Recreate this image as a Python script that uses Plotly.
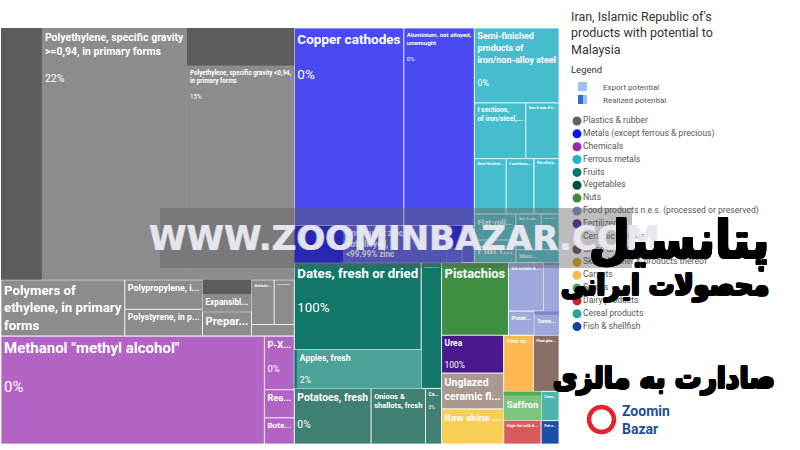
import plotly.graph_objects as go

# ---------------- data ----------------
categories = ["Plastics & rubber", "Metals (except ferrous & precious)", "Chemicals",
              "Ferrous metals", "Fruits", "Vegetables", "Nuts",
              "Food products n.e.s. (processed or preserved)", "Fertilizers",
              "Ceramic articles", "Glass articles", "Skins, leather & products thereof",
              "Carpets", "Spices", "Dairy products", "Cereal products", "Fish & shellfish"]
legend_colors = ["#616161", "#1010f0", "#9c27b0", "#1fb3c6", "#00796b", "#004d40", "#388e3c",
                 "#7986cb", "#4a148c", "#d7ccc8", "#5d4037", "#d9a400", "#ffb74d",
                 "#4caf50", "#c62828", "#26a69a", "#0d47a1"]
cell_colors = ["#8c8c8c", "#4a4af2", "#b264c4", "#46bdcc", "#4aa396", "#3f8073", "#3d8f41",
               "#9fa8da", "#8a6bb8", "#a99890", "#8a6f66", "#f8cf55", "#ffb752",
               "#7dc47f", "#d95a5a", "#4db6ac", "#1e4fa6"]
realized_colors = ["#5c5c5c", "#0000ee", "#9c27b0", "#1ea5b8", "#12786a", "#1d5e50", "#2e7d32",
                   "#7986cb", "#4a1a8c", "#8d7b74", "#6d5248", "#e0b030", "#f59a2a",
                   "#4caf50", "#c62828", "#26a69a", "#0d47a1"]
# order in which the category blocks are packed
draw_order = [0, 2, 1, 3, 4, 5, 6, 7, 8, 9, 11, 12, 10, 13, 14, 15, 16]

products = ["Polyethylene, specific gravity<br>>=0,94, in primary forms",
            "Polyethylene, specific gravity &lt;0,94,<br>in primary forms",
            "Polymers of<br>ethylene, in primary<br>forms", "Polypropylene, i...",
            "Polystyrene, in p...", "Expansibl...", "Prepar...", "Article...", "Non-cellula...", "",
            "Copper cathodes", "Aluminium, not alloyed,<br>unwrought",
            "Unwrought zinc,<br>not alloyed,<br>&lt;99.99% zinc", "", "",
            "Methanol \"methyl alcohol\"", "P-X...", "Rea...", "Buta...",
            "Semi-finished<br>products of<br>iron/non-alloy steel", "I sections,<br>of iron/steel,...",
            "Semi-finished...", "Bars & rods of ir...", "Flat-rolled p...", "I sections...",
            "Flat-roll...", "Flat r...", "Bars & rods...", "Semi-fini...", "Wast...",
            "Dates, fresh or dried", "Apples, fresh", "Grapes, dried",
            "Potatoes, fresh", "Onions &<br>shallots, fresh", "Ca...",
            "Pistachios",
            "Ice cream & ...", "", "Potat...", "Swee...",
            "Urea", "Unglazed<br>ceramic fl...", "Float glas...", "Raw skins ...", "Floor co...",
            "Saffron", "High-fat milk &...", "Ceme...", "Fish n..."]
product_category = [0] * 10 + [1] * 5 + [2] * 4 + [3] * 11 + [4] * 3 + [5] * 3 + [6] + [7] * 4 + \
                   [8, 9, 10, 11, 12, 13, 14, 15, 16]
export_potential = [450, 260, 67, 22, 20, 15, 11.5, 9.8, 8.6, 4.8,
                    208, 134, 54, 5.5, 4.5,
                    273, 15.4, 8.1, 7.5,
                    61, 27.5, 17, 17.7, 13.3, 14.8, 10.4, 9, 8.7, 6.1, 5.3,
                    106.5, 47, 24.6,
                    41, 29, 8.6,
                    46.7,
                    16.5, 7.1, 6, 5.7,
                    22.6, 21.4, 13.8, 20.9, 16, 10.4, 8.5, 5, 4]
realized_label = ["22%", "15%", "", "", "", "", "", "", "", "",
                  "0%", "0%", "", "", "",
                  "0%", "0%", "", "",
                  "0%", "", "", "", "", "", "", "", "", "", "",
                  "100%", "2%", "",
                  "0%", "", "0%",
                  "",
                  "", "", "", "",
                  "100%", "", "", "", "", "", "", "", ""]
realized_share = [22, 15, 0, 0, 0, 45, 0, 0, 0, 0,
                  0, 0, 32, 60, 0,
                  0, 0, 0, 0,
                  0, 0, 0, 0, 0, 0, 0, 0, 0, 0, 0,
                  100, 2, 100,
                  0, 0, 0,
                  0,
                  0, 5, 0, 15,
                  100, 0, 0, 0, 0, 15, 0, 0, 0]

title_lines = ["Iran, Islamic Republic of's", "products with potential to", "Malaysia"]
legend_keys = ["Export potential", "Realized potential"]
persian_lines = ["پتانسیل", "محصولات ایرانی", "صادارت به مالزی"]
watermark = "WWW.ZOOMINBAZAR.COM"
logo_lines = ["Zoomin", "Bazar"]

# ---------------- treemap nodes ----------------
ids, labels, parents, values, colors, texts, lw, lc = [], [], [], [], [], [], [], []


def add(i, lab, par, val, col, txt, w, c):
    ids.append(i); labels.append(lab); parents.append(par); values.append(val)
    colors.append(col); texts.append(txt); lw.append(w); lc.append(c)


for ci in draw_order:
    add("c%d" % ci, categories[ci], "", 0, realized_colors[ci], "", 2.5, "#ffffff")
for ci in draw_order:
    prods = sorted([j for j in range(len(products)) if product_category[j] == ci],
                   key=lambda j: -export_potential[j])
    for j in prods:
        p = products[j]
        t = "<b>%s</b>" % p if p else ""
        if realized_label[j]:
            t += "<br><br>" + realized_label[j]
        s = realized_share[j]
        lab = p.replace("<br>", " ").replace("&lt;", "<") or "(other)"
        if 0 < s < 100:
            add("p%d" % j, lab, "c%d" % ci, 0, cell_colors[ci], "", 1, "rgba(255,255,255,0.75)")
            add("p%dr" % j, lab + " - realized", "p%d" % j, export_potential[j] * s / 100,
                realized_colors[ci], t if s >= 50 else "", 0, "rgba(0,0,0,0)")
            add("p%du" % j, lab + " - unrealized", "p%d" % j, export_potential[j] * (100 - s) / 100,
                cell_colors[ci], t if s < 50 else "", 0, "rgba(0,0,0,0)")
        else:
            add("p%d" % j, lab, "c%d" % ci, export_potential[j],
                realized_colors[ci] if s >= 100 else cell_colors[ci], t, 1, "rgba(255,255,255,0.75)")

W, H = 800, 450


def px(x):
    return x / W


def py(y):
    return 1 - y / H


fig = go.Figure()
fig.add_trace(go.Treemap(
    ids=ids, labels=labels, parents=parents, values=values,
    branchvalues="remainder", sort=False,
    text=texts, textinfo="text", textposition="top left",
    textfont=dict(family="Roboto", size=15, color="white"),
    marker=dict(colors=colors, line=dict(width=lw, color=lc),
                pad=dict(t=0, l=0, r=0, b=0)),
    tiling=dict(pad=0, packing="squarify", squarifyratio=1.618),
    pathbar=dict(visible=False),
    root=dict(color="white"),
    hoverinfo="label+value",
    domain=dict(x=[px(1), px(559)], y=[py(444), py(28)]),
))

# legend of categories (circles)
ly = [121 + 12.85 * i for i in range(len(categories))]
fig.add_trace(go.Scatter(
    x=[577] * len(categories), y=ly, mode="markers",
    marker=dict(size=9, color=legend_colors, line=dict(width=0)),
    hoverinfo="skip", showlegend=False, cliponaxis=False))
fig.add_trace(go.Scatter(
    x=[583] * len(categories), y=ly, mode="text", text=categories,
    textposition="middle right", textfont=dict(family="Roboto", size=8.6, color="#555"),
    hoverinfo="skip", showlegend=False, cliponaxis=False))

fig.update_xaxes(range=[0, W], visible=False, fixedrange=True)
fig.update_yaxes(range=[H, 0], visible=False, fixedrange=True)

shapes = []
shapes.append(dict(type="rect", xref="paper", yref="paper", x0=px(578), x1=px(587), y0=py(91), y1=py(82),
                   fillcolor="#9cc3ee", line=dict(width=0)))
shapes.append(dict(type="rect", xref="paper", yref="paper", x0=px(578), x1=px(587), y0=py(104), y1=py(95),
                   fillcolor="#9cc3ee", line=dict(width=0)))
shapes.append(dict(type="rect", xref="paper", yref="paper", x0=px(578), x1=px(583), y0=py(104), y1=py(95),
                   fillcolor="#2c6fd0", line=dict(width=0)))
# watermark pill
x0, x1, y0, y1, r = 130, 662, 208, 268, 30
pill = "rgba(95,95,95,0.42)"
shapes.append(dict(type="rect", xref="paper", yref="paper", x0=px(x0 + r), x1=px(x1 - r),
                   y0=py(y1), y1=py(y0), fillcolor=pill, line=dict(width=0), layer="above"))
shapes.append(dict(type="path", xref="paper", yref="paper",
                   path="M {a},{b} A {rx},{ry} 0 0 0 {a},{d} Z".format(
                       a=px(x0 + r), b=py(y0), d=py(y1), rx=px(r), ry=r / H),
                   fillcolor=pill, line=dict(width=0), layer="above"))
shapes.append(dict(type="path", xref="paper", yref="paper",
                   path="M {a},{b} A {rx},{ry} 0 0 1 {a},{d} Z".format(
                       a=px(x1 - r), b=py(y0), d=py(y1), rx=px(r), ry=r / H),
                   fillcolor=pill, line=dict(width=0), layer="above"))
# logo ring
shapes.append(dict(type="circle", xref="paper", yref="paper", x0=px(589), x1=px(614), y0=py(432), y1=py(407),
                   fillcolor="rgba(0,0,0,0)", line=dict(width=4.5, color="#e0262b"), layer="above"))

bold_shadow = ("1px 0 0 black, -1px 0 0 black, 0 1px 0 black, 0 -1px 0 black, "
               "1px 1px 0 black, -1px -1px 0 black, 1px -1px 0 black, -1px 1px 0 black")
wm_shadow = "0.6px 0 0 rgba(232,232,240,0.8), -0.6px 0 0 rgba(232,232,240,0.8)"

annotations = []
annotations.append(dict(xref="paper", yref="paper", x=px(569), y=py(7), xanchor="left", yanchor="top",
                        text="<br>".join(title_lines), showarrow=False, align="left",
                        font=dict(family="Roboto", size=12.5, color="#333")))
annotations.append(dict(xref="paper", yref="paper", x=px(569), y=py(69), xanchor="left", yanchor="middle",
                        text="Legend", showarrow=False, font=dict(family="Roboto", size=9.5, color="#333")))
annotations.append(dict(xref="paper", yref="paper", x=px(601), y=py(87), xanchor="left", yanchor="middle",
                        text=legend_keys[0], showarrow=False, font=dict(family="Roboto", size=8, color="#555")))
annotations.append(dict(xref="paper", yref="paper", x=px(601), y=py(100), xanchor="left", yanchor="middle",
                        text=legend_keys[1], showarrow=False, font=dict(family="Roboto", size=8, color="#555")))
annotations.append(dict(xref="paper", yref="paper", x=px(404), y=py(238), xanchor="center", yanchor="middle",
                        text="<b>%s</b>" % watermark, showarrow=False,
                        font=dict(family="DejaVu Sans", size=34, color="rgba(232,232,240,0.8)",
                                  shadow=wm_shadow)))
for txt, xr, yc, sz in zip(persian_lines, [771, 771, 777], [240, 285, 378], [52, 28.5, 29.5]):
    annotations.append(dict(xref="paper", yref="paper", x=px(xr), y=py(yc), xanchor="right", yanchor="middle",
                            text="<b>%s</b>" % txt, showarrow=False,
                            font=dict(family="DejaVu Sans Condensed", size=sz, color="black",
                                      shadow=bold_shadow)))
annotations.append(dict(xref="paper", yref="paper", x=px(620), y=py(420), xanchor="left", yanchor="middle",
                        text="<b>%s</b>" % "<br>".join(logo_lines), showarrow=False, align="left",
                        font=dict(family="Roboto", size=14, color="#1d4f91")))

fig.update_layout(width=W, height=H, margin=dict(l=0, r=0, t=0, b=0),
                  paper_bgcolor="white", plot_bgcolor="white",
                  shapes=shapes, annotations=annotations, showlegend=False)

fig.write_html("out.html", config={"displayModeBar": False},
               post_script="document.body.style.margin='0';")
